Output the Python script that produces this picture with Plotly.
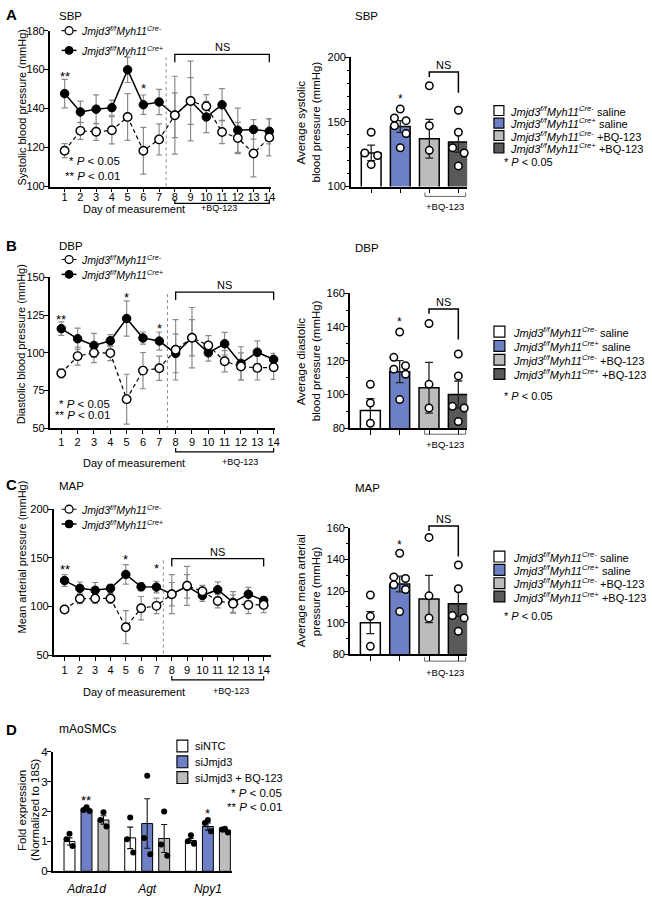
import plotly.graph_objects as go

W, H = 652, 900
FONT = "Arial, Liberation Sans, Helvetica, sans-serif"

# ---------------- data ----------------
days = list(range(1, 15))

# Panel A (SBP, mmHg)
sbp_neg = [118.4, 128.6, 128.1, 128.9, 135.7, 118.4, 124.2, 136.6, 143.9, 141.2, 128.0, 124.9, 117.0, 125.2]
sbp_neg_sem = [3.6, 4.4, 4.4, 7.0, 12.0, 12.0, 8.0, 20.0, 20.5, 6.0, 6.0, 8.0, 12.0, 9.5]
sbp_pos = [147.7, 138.3, 139.7, 140.5, 159.9, 142.0, 143.4, 136.6, 143.9, 135.7, 142.0, 128.9, 129.3, 128.4]
sbp_pos_sem = [7.3, 5.5, 7.4, 3.9, 6.5, 5.0, 6.5, 11.5, 12.0, 8.0, 8.3, 11.4, 5.0, 6.5]

# Panel B (DBP, mmHg)
dbp_neg = [86.4, 97.8, 100.0, 99.8, 69.3, 88.2, 89.8, 102.0, 110.0, 104.9, 94.4, 91.0, 90.0, 90.4]
dbp_neg_sem = [3.0, 6.0, 6.5, 5.0, 16.5, 12.0, 8.0, 20.0, 20.0, 6.5, 7.0, 9.0, 8.0, 8.0]
dbp_pos = [116.0, 109.3, 104.9, 108.0, 122.7, 109.8, 107.8, 99.6, 110.0, 100.0, 106.0, 93.0, 100.4, 95.6]
dbp_pos_sem = [4.5, 7.0, 8.0, 4.0, 11.7, 4.0, 6.0, 12.8, 12.0, 5.5, 7.5, 11.0, 7.5, 4.0]

# Panel C (MAP, mmHg)
map_neg = [97.0, 108.0, 108.3, 108.3, 78.8, 98.3, 100.7, 112.7, 121.3, 115.7, 105.7, 103.0, 101.7, 101.7]
map_neg_sem = [2.0, 5.0, 5.0, 5.0, 17.0, 12.0, 8.0, 20.0, 20.0, 6.0, 7.0, 9.0, 9.0, 8.0]
map_pos = [126.7, 118.7, 116.7, 118.7, 133.0, 120.3, 120.0, 112.7, 120.7, 111.3, 117.3, 104.3, 112.7, 106.3]
map_pos_sem = [6.0, 6.5, 8.0, 4.0, 10.0, 4.0, 6.0, 12.0, 12.0, 6.0, 8.0, 11.0, 7.0, 4.0]

# Average bar charts (4 groups)
group_labels = ["Cre- saline", "Cre+ saline", "Cre- +BQ-123", "Cre+ +BQ-123"]
sbp_bar = [126.0, 146.5, 137.0, 134.5]
sbp_bar_sem = [6.0, 4.5, 15.0, 8.0]
sbp_pts = [[142, 126, 124, 117], [160, 153, 151, 147, 141, 130], [178, 147, 128], [159, 142, 130, 126, 116]]

dbp_bar = [90.5, 113.5, 104.0, 100.0]
dbp_bar_sem = [7.0, 6.5, 15.0, 8.0]
dbp_pts = [[106, 95, 83], [137, 122, 117, 115, 112, 97], [142, 106, 92], [124, 111, 93, 92, 84]]

map_bar = [100.0, 124.5, 115.0, 112.0]
map_bar_sem = [7.0, 5.0, 15.0, 8.0]
map_pts = [[117.5, 104, 85], [144, 129, 128, 124, 121, 107], [154, 117, 103], [136.5, 121.5, 104.5, 103, 94.5]]

# Panel D (fold expression)
genes = ["Adra1d", "Agt", "Npy1"]
d_series = ["siNTC", "siJmjd3", "siJmjd3 + BQ-123"]
d_means = [[1.00, 1.12, 1.03], [2.08, 1.60, 1.50], [1.72, 1.10, 1.38]]
d_sems = [[0.12, 0.36, 0.07], [0.05, 0.83, 0.12], [0.14, 0.47, 0.06]]
d_pts = [
    [[1.26, 1.07, 0.85], [1.80, 1.07, 0.63], [1.21, 1.01, 0.92]],
    [[2.15, 2.05, 2.02], [3.20, 1.12, 0.57], [1.72, 1.62, 1.34]],
    [[1.98, 1.72, 1.50], [2.00, 0.90, 0.52], [1.43, 1.40, 1.30]],
]

# ---------------- styling ----------------
BAR_COLORS = ['#ffffff', '#6d80c6', '#bcbcbc', '#595959']
D_COLORS = ['#ffffff', '#6d80c6', '#bcbcbc']
JIT = {3: [0, 0, 0], 4: [0, -0.22, 0.22, 0], 5: [0, 0, -0.2, 0.2, 0], 6: [0, -0.2, 0.2, -0.2, 0.2, 0]}
D_OFF = [-0.28, 0.0, 0.28]
D_JIT = [0, -0.05, 0.05]


def X(p):
    return p / W


def Y(p):
    return 1 - p / H


fig = go.Figure()
layout = {}
shapes, anns = [], []


def txt(x, y, s, size=11, xa='center', ya='middle', xref='paper', angle=0):
    anns.append(dict(x=X(x) if xref == 'paper' else x, y=Y(y), xref=xref, yref='paper',
                     text=s, showarrow=False, textangle=angle,
                     font=dict(family=FONT, size=size, color='black'),
                     xanchor=xa, yanchor=ya))


def path(xref, pts, color='black', width=1.3, dash='solid'):
    d = ' '.join(('M' if i == 0 else 'L') + f' {(X(x) if xref == "paper" else x)},{Y(y)}'
                 for i, (x, y) in enumerate(pts))
    shapes.append(dict(type='path', path=d, xref=xref, yref='paper',
                       line=dict(color=color, width=width, dash=dash)))


def names(i):
    s = '' if i == 1 else str(i)
    return 'xaxis' + s, 'yaxis' + s, 'x' + s, 'y' + s


BASE = dict(showline=True, linecolor='black', linewidth=1.5, ticks='outside', ticklen=4,
            tickwidth=1.3, tickcolor='black', showgrid=False, zeroline=False,
            tickfont=dict(family=FONT, size=10.5, color='black'), fixedrange=True)


def line_panel(i, xpx, ypx, xr, yr, yticks, neg, neg_e, pos, pos_e, xstand):
    xa, ya, xn, yn = names(i)
    layout[xa] = dict(BASE, domain=[X(xpx[0]), X(xpx[1])], range=xr, tickvals=days, anchor=yn,
                      ticklabelstandoff=xstand, tickfont=dict(family=FONT, size=11, color='black'))
    layout[ya] = dict(BASE, domain=[Y(ypx[1]), Y(ypx[0])], range=yr, tickvals=yticks, anchor=xn,
                      ticklabelstandoff=-3, tickfont=dict(family=FONT, size=11, color='black'))
    for vals, errs in ((pos, pos_e), (neg, neg_e)):
        fig.add_trace(go.Scatter(x=days, y=vals, mode='markers', marker=dict(size=2, opacity=0),
                                 error_y=dict(type='data', array=errs, color='#8a8a8a', thickness=1.2, width=3),
                                 xaxis=xn, yaxis=yn, cliponaxis=False, hoverinfo='skip'))
    fig.add_trace(go.Scatter(x=days, y=pos, mode='lines+markers', line=dict(color='black', width=1.5),
                             marker=dict(size=8.5, color='black', line=dict(color='black', width=1)),
                             xaxis=xn, yaxis=yn, cliponaxis=False))
    fig.add_trace(go.Scatter(x=days, y=neg, mode='lines+markers',
                             line=dict(color='black', width=1.2, dash='4px,3px'),
                             marker=dict(size=8.5, color='white', line=dict(color='black', width=1.4)),
                             xaxis=xn, yaxis=yn, cliponaxis=False))
    return xn


def bar_panel(i, xpx, ypx, yr, tick0, dtick, mdtick, means, sems, pts):
    xa, ya, xn, yn = names(i)
    layout[xa] = dict(BASE, domain=[X(xpx[0]), X(xpx[1])], range=[-0.7, 3.3], tickvals=[0, 1, 2, 3],
                      showticklabels=False, ticklen=5, anchor=yn)
    layout[ya] = dict(BASE, domain=[Y(ypx[1]), Y(ypx[0])], range=yr, tickmode='linear', tick0=tick0,
                      dtick=dtick, anchor=xn, ticklabelstandoff=-3,
                      tickfont=dict(family=FONT, size=11, color='black'),
                      minor=dict(ticks='outside', ticklen=2.5, tickwidth=1, tickcolor='black',
                                 dtick=mdtick, tick0=tick0))
    fig.add_trace(go.Bar(x=[0, 1, 2, 3], y=means, width=0.68,
                         marker=dict(color=BAR_COLORS, line=dict(color='black', width=1.5)),
                         error_y=dict(type='data', array=sems, color='#222222', thickness=1.3, width=4),
                         xaxis=xn, yaxis=yn))
    for g, p in enumerate(pts):
        fig.add_trace(go.Scatter(x=[g + o for o in JIT[len(p)]], y=p, mode='markers',
                                 marker=dict(size=7.5, color='white', line=dict(color='black', width=1.5)),
                                 xaxis=xn, yaxis=yn, cliponaxis=False))
    return xn


ITAL_NEG = "<i>Jmjd3<sup>f/f</sup>Myh11<sup>Cre-</sup></i>"
ITAL_POS = "<i>Jmjd3<sup>f/f</sup>Myh11<sup>Cre+</sup></i>"


def line_legend(y1, y2):
    path('paper', [(62, y1), (77, y1)], width=1.1, dash='dot')
    shapes.append(dict(type='circle', xref='paper', yref='paper', x0=X(65.5), x1=X(73.5), y0=Y(y1 + 4), y1=Y(y1 - 4),
                       fillcolor='white', line=dict(color='black', width=1.3)))
    path('paper', [(62, y2), (77, y2)], width=1.5)
    shapes.append(dict(type='circle', xref='paper', yref='paper', x0=X(65.5), x1=X(73.5), y0=Y(y2 + 4), y1=Y(y2 - 4),
                       fillcolor='black', line=dict(color='black', width=1)))
    txt(79, y1, ITAL_NEG, size=10.5, xa='left')
    txt(79, y2, ITAL_POS, size=10.5, xa='left')


def bar_legend(rows, tx, sq, py):
    labels = [ITAL_NEG + " saline", ITAL_POS + " saline", ITAL_NEG + " +BQ-123", ITAL_POS + " +BQ-123"]
    for r, c, lab in zip(rows, BAR_COLORS, labels):
        shapes.append(dict(type='rect', xref='paper', yref='paper', x0=X(497), x1=X(497 + sq),
                           y0=Y(r + sq / 2), y1=Y(r - sq / 2), fillcolor=c, line=dict(color='black', width=1.2)))
        txt(tx, r, lab, size=11, xa='left')
    txt(505, py, "* <i>P</i> < 0.05", size=11, xa='left')


# ---------------- Panel A ----------------
xa1 = line_panel(1, (50, 273), (25, 183), [0.05, 14.13], [100, 180], [100, 120, 140, 160, 180],
                 sbp_neg, sbp_neg_sem, sbp_pos, sbp_pos_sem, -5)
xa2 = bar_panel(2, (353, 470), (52, 183), [100, 200], 100, 50, 10, sbp_bar, sbp_bar_sem, sbp_pts)

# ---------------- Panel B ----------------
xb1 = line_panel(3, (50, 277), (275, 428), [0.29, 14.1], [50, 150], [50, 75, 100, 125, 150],
                 dbp_neg, dbp_neg_sem, dbp_pos, dbp_pos_sem, -1)
xb2 = bar_panel(4, (352, 470), (291, 428), [80, 160], 80, 20, 10, dbp_bar, dbp_bar_sem, dbp_pts)

# ---------------- Panel C ----------------
xc1 = line_panel(5, (54, 273), (510, 658), [0.29, 14.5], [50, 200], [50, 100, 150, 200],
                 map_neg, map_neg_sem, map_pos, map_pos_sem, 0)
xc2 = bar_panel(6, (352, 470), (529, 657), [80, 160], 80, 20, 10, map_bar, map_bar_sem, map_pts)

# ---------------- Panel D ----------------
xa, ya, xd, yd = names(7)
layout[xa] = dict(BASE, domain=[X(53), X(233)], range=[-0.557, 2.39], tickvals=[0, 1, 2],
                  ticktext=[f"<i>{g}</i>" for g in genes], ticks='', anchor=yd, ticklabelstandoff=6,
                  tickfont=dict(family=FONT, size=12, color='black'))
layout[ya] = dict(BASE, domain=[Y(877), Y(756)], range=[0, 4], tickvals=[0, 1, 2, 3, 4], anchor=xd,
                  ticklabelstandoff=-3, tickfont=dict(family=FONT, size=11.5, color='black'))
for j in range(3):
    fig.add_trace(go.Bar(x=[g + D_OFF[j] for g in range(3)], y=d_means[j], width=0.18,
                         marker=dict(color=D_COLORS[j], line=dict(color='black', width=1)),
                         error_y=dict(type='data', array=d_sems[j], color='#111111', thickness=1.1, width=3),
                         xaxis=xd, yaxis=yd))
    for g in range(3):
        fig.add_trace(go.Scatter(x=[g + D_OFF[j] + o for o in D_JIT], y=d_pts[j][g], mode='markers',
                                 marker=dict(size=6, color='black'), xaxis=xd, yaxis=yd, cliponaxis=False))

# ---------------- decorations ----------------
# panel letters and titles
for lab, y in (("A", 9), ("B", 243), ("C", 485), ("D", 733)):
    txt(4, y, f"<b>{lab}</b>", size=15, xa='left')
txt(57, 10, "SBP", size=11.5, xa='left')
txt(355, 10, "SBP", size=11.5, xa='left')
txt(57, 243, "DBP", size=11.5, xa='left')
txt(355, 245, "DBP", size=11.5, xa='left')
txt(57, 486, "MAP", size=11.5, xa='left')
txt(355, 489, "MAP", size=11.5, xa='left')
txt(57, 733, "mAoSMCs", size=12, xa='left')

# y-axis titles
txt(22, 102, "Systolic blood pressure (mmHg)", size=11, angle=-90)
txt(22, 343, "Diastolic blood pressure (mmHg)", size=11, angle=-90)
txt(22, 558, "Mean arterial pressure (mmHg)", size=11, angle=-90)
txt(303, 118, "Average systolic", size=11.5, angle=-90)
txt(318, 118, "blood pressure (mmHg)", size=11.5, angle=-90)
txt(303, 360, "Average diastolic", size=11.5, angle=-90)
txt(318, 360, "blood pressure (mmHg)", size=11.5, angle=-90)
txt(303, 593, "Average mean arterial", size=11.5, angle=-90)
txt(318, 593, "pressure (mmHg)", size=11.5, angle=-90)
txt(22, 815, "Fold expression", size=11.5, angle=-90)
txt(35, 815, "(Normalized to 18S)", size=11.5, angle=-90)

# line-chart x titles, +BQ-123 brackets, NS brackets
for xn, day_y, bq_x, br_y, ns_y in ((xa1, 206, 220, 200, 49),
                                     (xb1, 463, 241, 452, 290),
                                     (xc1, 695, 232, 683, 560)):
    txt(135, day_y, "Day of measurement", size=11)
    txt(bq_x, day_y - 1, "+BQ-123", size=9)
    path(xn, [(8, br_y - 4), (8, br_y), (14, br_y), (14, br_y - 4)], width=1.2)
    path(xn, [(8, ns_y + 8), (8, ns_y), (14, ns_y), (14, ns_y + 8)], width=1.3)
    txt(11, ns_y - 7, "NS", size=11, xref=xn)

# dotted separators between day 7 and 8
path(xa1, [(7.45, 52), (7.45, 183)], color='#8c8c8c', width=1, dash='dot')
path(xb1, [(7.5, 292), (7.5, 428)], color='#8c8c8c', width=1, dash='dot')
path(xc1, [(7.45, 562), (7.45, 658)], color='#8c8c8c', width=1, dash='dot')

# line-chart legends
line_legend(25, 45)
line_legend(257, 272)
line_legend(510, 525)

# significance stars (line charts)
txt(1, 71, "**", size=13, xref=xa1)
txt(6, 84, "*", size=13, xref=xa1)
txt(1, 318, "**", size=13, xref=xb1)
txt(5, 295, "*", size=13, xref=xb1)
txt(7, 327, "*", size=13, xref=xb1)
txt(1, 571, "**", size=13, xref=xc1)
txt(5, 561, "*", size=13, xref=xc1)
txt(7, 570, "*", size=13, xref=xc1)

# P-value keys (line charts)
txt(123, 157, "* <i>P</i> < 0.05", size=11.5, xa='right')
txt(123, 172, "** <i>P</i> < 0.01", size=11.5, xa='right')
txt(113, 403, "* <i>P</i> < 0.05", size=11.5, xa='right')
txt(113, 415, "** <i>P</i> < 0.01", size=11.5, xa='right')

# bar charts: NS brackets, stars, +BQ-123 brackets, legends
for xn, ns_top, r_bot, star_y, bq_br, bq_txt in ((xa2, 67, 88, 94, 193, 203),
                                                   (xb2, 307, 338, 320, 434, 444),
                                                   (xc2, 527, 558, 546, 664, 675)):
    path(xn, [(2, ns_top + 5), (2, ns_top), (3, ns_top), (3, r_bot)], width=1.5)
    txt(2.5, ns_top - 7, "NS", size=11, xref=xn)
    txt(1, star_y, "*", size=12, xref=xn)
    path(xn, [(1.85, bq_br - 4), (1.85, bq_br), (3.25, bq_br), (3.25, bq_br - 4)], color='#666666', width=1)
    txt(2.55, bq_txt, "+BQ-123", size=9.5, xref=xn)

bar_legend([106, 118.7, 131.3, 144], 511, 10, 158)
bar_legend([330, 344.5, 358.5, 373], 514, 11, 395)
bar_legend([558, 571.5, 585, 598.5], 514, 11, 618)

# Panel D legend, stars, key
for r, c, lab in zip([750, 766, 782], D_COLORS, d_series):
    shapes.append(dict(type='rect', xref='paper', yref='paper', x0=X(178), x1=X(189),
                       y0=Y(r + 6), y1=Y(r - 6), fillcolor=c, line=dict(color='black', width=1.1)))
    txt(194, r, lab, size=11, xa='left')
txt(0, 805, "**", size=13, xref=xd)
txt(2, 818, "*", size=13, xref=xd)
txt(286, 798, "* <i>P</i> < 0.05", size=11.5, xa='right')
txt(286, 812, "** <i>P</i> < 0.01", size=11.5, xa='right')

fig.update_layout(width=W, height=H, margin=dict(l=0, r=0, t=0, b=0), showlegend=False,
                  paper_bgcolor='white', plot_bgcolor='rgba(0,0,0,0)', barmode='overlay',
                  font=dict(family=FONT, color='black'), shapes=shapes, annotations=anns, **layout)
fig.write_html("out.html")
